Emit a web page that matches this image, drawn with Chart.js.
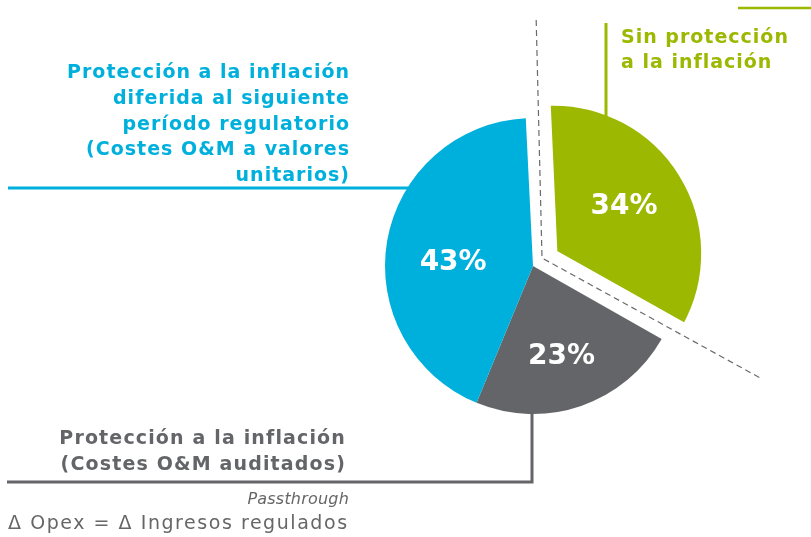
<!DOCTYPE html>
<html>
<head>
<meta charset="utf-8">
<script src="https://cdn.jsdelivr.net/npm/chart.js@4/dist/chart.umd.min.js"></script>
<style>
  html, body { margin: 0; padding: 0; background: #ffffff; }
  #wrap { position: relative; width: 811px; height: 537px; overflow: hidden; }
  #c { position: absolute; left: 0; top: 0; }
  .t { position: absolute; font-family: "DejaVu Sans", Verdana, sans-serif; white-space: nowrap; }
  .b { font-weight: bold; font-size: 19px; letter-spacing: 1px; }
</style>
</head>
<body>
<div id="wrap">
  <canvas id="c" width="811" height="537"></canvas>
  <div class="t b" id="tBlue" style="color:#00b0dc; right:461px; top:59px; line-height:25.75px; text-align:right;">Protección a la inflación<br>diferida al siguiente<br>período regulatorio<br>(Costes O&amp;M a valores<br>unitarios)</div>
  <div class="t b" id="tGreen" style="color:#9cb800; left:621px; top:24px; line-height:25px;">Sin protección<br>a la inflación</div>
  <div class="t b" id="tGrey" style="color:#646569; right:465px; top:424px; line-height:26px; text-align:right; letter-spacing:1.15px;">Protección a la inflación<br>(Costes O&amp;M auditados)</div>
  <div class="t" style="color:#666666; font-size:16px; font-style:italic; right:462px; top:489px; letter-spacing:0.2px;">Passthrough</div>
  <div class="t" style="color:#666666; font-size:19px; left:8px; top:511px; letter-spacing:1.55px;">Δ Opex = Δ Ingresos regulados</div>
</div>
<script>
// ---- data ----
const categories = [
  'Sin protección a la inflación',
  'Protección a la inflación (Costes O&M auditados)',
  'Protección a la inflación diferida al siguiente período regulatorio (Costes O&M a valores unitarios)'
];
const shares = [34, 23, 43];
const shareLabels = ['34%', '23%', '43%'];

// ---- style ----
const sliceColors = ['#9cb800', '#646569', '#00b0dc'];
const explodePx = [24, 0, 0];            // actual pixel shift of each slice
const labelRadial = [0.57, 0.64, 0.54];
const labelAngleTweak = [-1.7, 1.5, -7.6]; // degrees

const deg = Math.PI / 180;

const labelsPlugin = {
  id: 'sliceLabels',
  afterDatasetsDraw(chart) {
    const ctx = chart.ctx;
    const meta = chart.getDatasetMeta(0);
    ctx.save();
    ctx.fillStyle = '#ffffff';
    ctx.font = 'bold 28px "DejaVu Sans", Verdana, sans-serif';
    ctx.textAlign = 'center';
    ctx.textBaseline = 'middle';
    meta.data.forEach((arc, i) => {
      const p = arc.getProps(['x', 'y', 'startAngle', 'endAngle', 'outerRadius'], true);
      const mid = (p.startAngle + p.endAngle) / 2;
      const off = explodePx[i];
      const cx = p.x + Math.cos(mid) * off;
      const cy = p.y + Math.sin(mid) * off;
      const a = mid + labelAngleTweak[i] * deg;
      const r = p.outerRadius * labelRadial[i];
      ctx.fillText(shareLabels[i], cx + Math.cos(a) * r, cy + Math.sin(a) * r);
    });
    ctx.restore();
  }
};

const leaderPlugin = {
  id: 'leaders',
  afterDatasetsDraw(chart) {
    const ctx = chart.ctx;
    const meta = chart.getDatasetMeta(0);
    const g = meta.data[0].getProps(['x', 'y', 'startAngle', 'endAngle', 'outerRadius'], true);
    const cx = g.x, cy = g.y, R = g.outerRadius;
    ctx.save();
    // dashed separator
    ctx.strokeStyle = '#6a6a6a';
    ctx.lineWidth = 1.2;
    ctx.setLineDash([6, 4]);
    const kx = cx + 9, ky = cy - 8;
    const topA = -1.4 * deg, endA = 118.8 * deg;
    ctx.beginPath();
    ctx.moveTo(kx + Math.sin(topA) * 238, ky - Math.cos(topA) * 238);
    ctx.lineTo(kx, ky);
    ctx.lineTo(kx + Math.sin(endA) * 248, ky - Math.cos(endA) * 248);
    ctx.stroke();
    ctx.setLineDash([]);
    ctx.lineWidth = 3;
    // blue leader
    const by = 188;
    ctx.strokeStyle = sliceColors[2];
    ctx.beginPath();
    ctx.moveTo(8, by);
    ctx.lineTo(cx - Math.sqrt(R * R - (cy - by) * (cy - by)) + 2, by);
    ctx.stroke();
    // green leader
    const gmid = (g.startAngle + g.endAngle) / 2;
    const gcx = cx + Math.cos(gmid) * explodePx[0];
    const gcy = cy + Math.sin(gmid) * explodePx[0];
    const gx = 606;
    ctx.strokeStyle = sliceColors[0];
    ctx.beginPath();
    ctx.moveTo(gx, 23);
    ctx.lineTo(gx, gcy - Math.sqrt(R * R - (gx - gcx) * (gx - gcx)) + 2);
    ctx.stroke();
    ctx.lineWidth = 2.5;
    ctx.beginPath();
    ctx.moveTo(738, 8);
    ctx.lineTo(811, 8);
    ctx.stroke();
    // grey leader
    ctx.lineWidth = 3;
    const gxx = cx - 1;
    ctx.strokeStyle = sliceColors[1];
    ctx.beginPath();
    ctx.moveTo(gxx, cy + R - 3);
    ctx.lineTo(gxx, 482);
    ctx.lineTo(7, 482);
    ctx.stroke();
    ctx.restore();
  }
};

new Chart(document.getElementById('c'), {
  type: 'pie',
  data: {
    labels: categories,
    datasets: [{
      data: shares,
      backgroundColor: sliceColors,
      borderColor: '#ffffff',
      borderWidth: [8, 0, 0],
      borderAlign: 'center',
      borderJoinStyle: 'miter',
      offset: explodePx.map(v => v * 4),   // Chart.js v4 shifts arcs by offset/4
      radius: 148
    }]
  },
  options: {
    responsive: false,
    animation: false,
    events: [],
    rotation: -2.8,
    radius: 148,
    layout: { padding: { left: 255, right: 0, top: 0, bottom: 5 } },
    plugins: { legend: { display: false }, tooltip: { enabled: false } }
  },
  plugins: [leaderPlugin, labelsPlugin]
});
</script>
</body>
</html>
